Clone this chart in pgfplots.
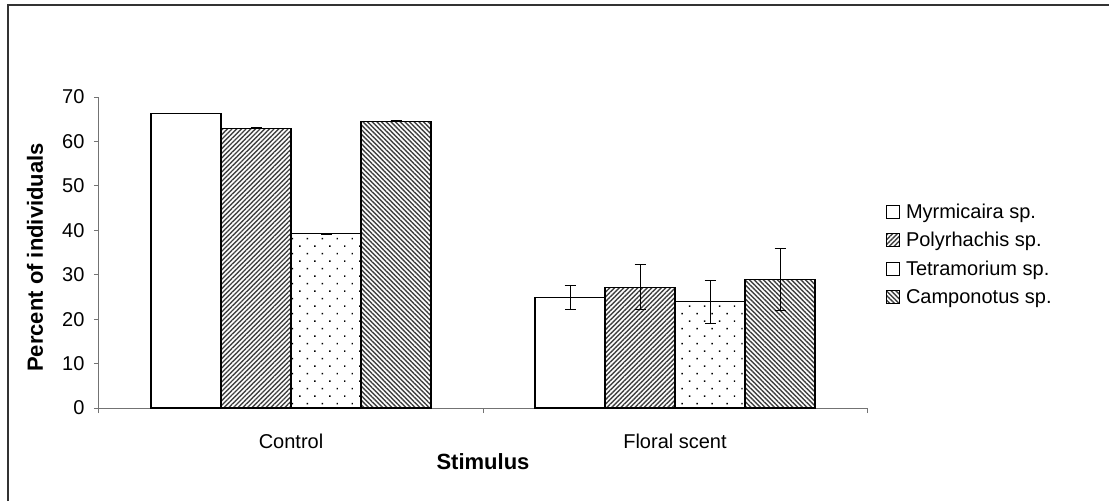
\documentclass[border=0pt]{standalone}
\usepackage{pgfplots}
\pgfplotsset{compat=1.18}
\usepackage{fontspec}
\setmainfont{Liberation Sans}
\usetikzlibrary{patterns.meta}

\begin{document}
\begin{tikzpicture}[x=1pt,y=1pt]
\path[use as bounding box] (-99,-93) rectangle (1010,408);
\draw[line width=1.3pt, black!80] (-91,-93) -- (-91,403) -- (1010,403);
\begin{axis}[
  at={(0,0)}, anchor=south west,
  scale only axis, width=768pt, height=311pt,
  xmin=-0.5, xmax=1.5, ymin=0, ymax=70,
  axis x line*=bottom, axis y line*=left,
  axis line style={black!55, line width=1pt},
  ytick={0,10,...,70},
  tick align=outside, major tick length=5pt,
  tick style={black!55, line width=1pt},
  xtick={-0.5,0.5,1.5}, xticklabels={},
  extra x ticks={0,1}, extra x tick labels={Control,Floral scent},
  extra x tick style={major tick length=0pt, tick label style={yshift=-22pt}},
  /pgf/number format/assume math mode=true,
  ticklabel style={font=\fontsize{20}{23}\selectfont},
  yticklabel style={xshift=-6pt},
  xlabel={\textbf{Stimulus}},
  ylabel={\textbf{Percent of individuals}},
  every axis x label/.style={at={([yshift=-54pt]axis description cs:0.5,0)}, anchor=center, font=\fontsize{22}{25}\selectfont},
  every axis y label/.style={at={([xshift=-64pt]axis description cs:0,0.484)}, rotate=90, anchor=center, font=\fontsize{22}{25}\selectfont},
  ybar=0pt, bar width=70pt,
  error bars/error bar style={black, line width=1pt},
  error bars/error mark options={rotate=90, mark size=5.5pt, black, line width=1pt},
  legend style={draw=none, at={(1,0.495)}, anchor=west, xshift=16pt,
    font=\fontsize{20}{23}\selectfont, row sep=8.5pt, legend cell align=left,
    /tikz/every odd column/.append style={column sep=4pt}},
  legend image code/.code={\draw[#1, line width=0.8pt] (0pt,-6.5pt) rectangle (13pt,6.5pt);},
]
\addplot[fill=white, draw=black, line width=1.2pt,
  error bars/.cd, y dir=both, y explicit]
  coordinates {(0,66.3) +- (0,0.1) (1,24.8) +- (0,2.7)};
\addplot[draw=black, line width=1.2pt,
  pattern={Lines[angle=45, distance=3.3pt, line width=1.4pt]}, pattern color=black!75,
  error bars/.cd, y dir=both, y explicit]
  coordinates {(0,63.0) +- (0,0.1) (1,27.2) +- (0,5.0)};
\addplot[draw=black, line width=1.2pt,
  pattern={Dots[angle=45, distance=10.6pt, radius=1pt]}, pattern color=black,
  legend image code/.code={\draw[black, fill=white, line width=0.8pt] (0pt,-6.5pt) rectangle (13pt,6.5pt);},
  error bars/.cd, y dir=both, y explicit]
  coordinates {(0,39.2) +- (0,0.1) (1,23.9) +- (0,4.8)};
\addplot[draw=black, line width=1.2pt,
  pattern={Lines[angle=-45, distance=3.3pt, line width=1.4pt]}, pattern color=black!75,
  error bars/.cd, y dir=both, y explicit]
  coordinates {(0,64.5) +- (0,0.1) (1,29.0) +- (0,7.0)};
\legend{Myrmicaira sp.,Polyrhachis sp.,Tetramorium sp.,Camponotus sp.}
\end{axis}
\end{tikzpicture}
\end{document}
